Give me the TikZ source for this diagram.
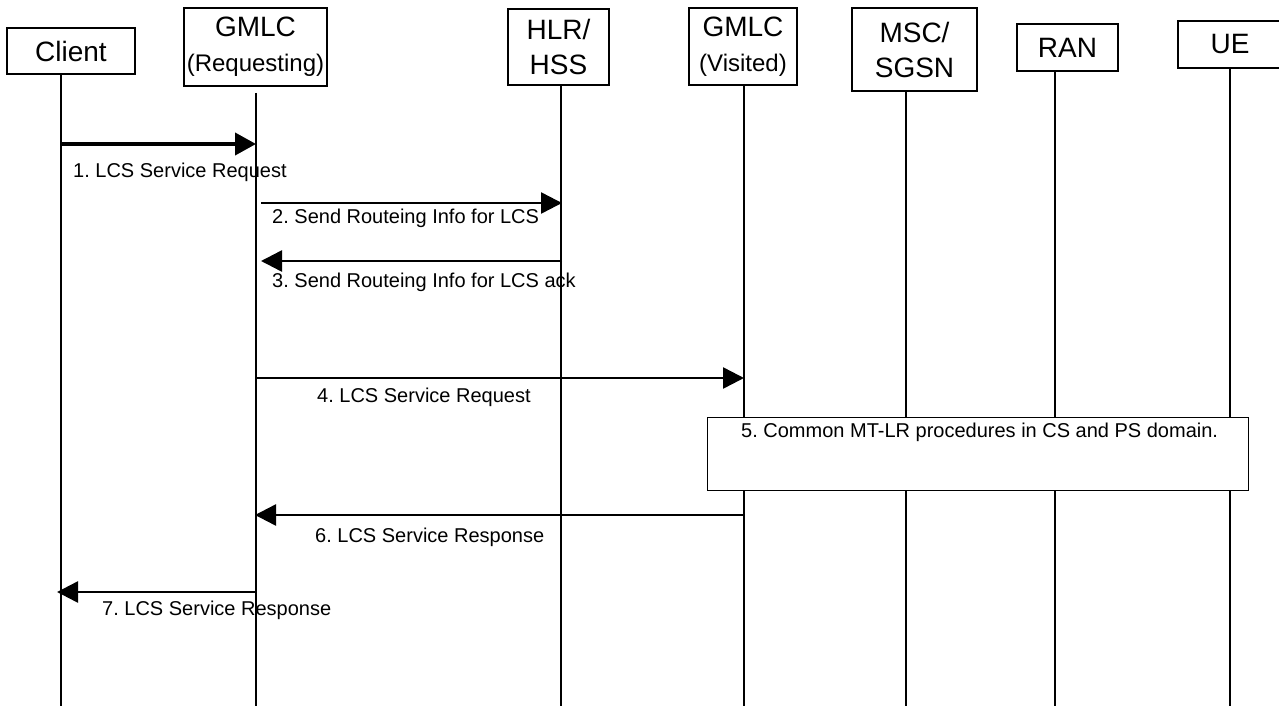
\documentclass[tikz,border=0pt]{standalone}
\usepackage{fontspec}
\setmainfont{Liberation Sans}
\usetikzlibrary{arrows.meta}
\begin{document}
\frenchspacing
\begin{tikzpicture}[x=1pt,y=-1pt,
  hdr/.style={draw, line width=1.3pt, fill=white, inner sep=0pt, align=center,
    font=\fontsize{28}{35}\selectfont},
  life/.style={line width=1.3pt},
  msg/.style={line width=2.5pt, -{Triangle[length=21pt,width=21pt]}},
  msgbold/.style={line width=4pt, -{Triangle[length=21pt,width=22pt]}},
  lbl/.style={anchor=base west, inner sep=0pt, font=\fontsize{20}{24}\selectfont\frenchspacing},
  procbox/.style={draw, line width=1.3pt, fill=white, inner sep=0pt, anchor=north west}]
\useasboundingbox (0,0) rectangle (1279,706);

% lifelines
\coordinate (cT) at (61,74);   \coordinate (cB) at (61,706);
\coordinate (gT) at (256,93);  \coordinate (gB) at (256,706);
\coordinate (hT) at (561,85);  \coordinate (hB) at (561,706);
\coordinate (vT) at (744,85);  \coordinate (vB) at (744,706);
\coordinate (mT) at (906,91);  \coordinate (mB) at (906,706);
\coordinate (rT) at (1055,71); \coordinate (rB) at (1055,706);
\coordinate (uT) at (1230,68); \coordinate (uB) at (1230,706);
\foreach \a/\b in {cT/cB,gT/gB,hT/hB,vT/vB,mT/mB,rT/rB,uT/uB}
  \draw[life] (\a) -- (\b);

% headers
\node[hdr, minimum width=128pt, minimum height=46pt] (client) at (71,51) {Client};
\node[hdr, minimum width=143pt, minimum height=78pt] (gmlcr) at (255.5,47)
  {GMLC\\{\fontsize{24}{35}\selectfont (Requesting)}};
\node[hdr, minimum width=101pt, minimum height=76pt] (hlr) at (558.5,47) {HLR/\\HSS};
\node[hdr, minimum width=108pt, minimum height=77pt] (gmlcv) at (743,46.5)
  {GMLC\\{\fontsize{24}{35}\selectfont (Visited)}};
\node[hdr, minimum width=125pt, minimum height=83pt] (msc) at (914.5,49.5) {MSC/\\SGSN};
\node[hdr, minimum width=101pt, minimum height=47pt] (ran) at (1067.5,47.5) {RAN};
\node[hdr, minimum width=104pt, minimum height=47pt] (ue) at (1230,44.5) {UE};

% messages
\coordinate (m1a) at (61,144);  \coordinate (m1b) at (256,144);
\coordinate (m2a) at (261,203); \coordinate (m2b) at (562,203);
\coordinate (m3a) at (562,261); \coordinate (m3b) at (261,261);
\coordinate (m4a) at (256,378); \coordinate (m4b) at (744,378);
\coordinate (m6a) at (744,515); \coordinate (m6b) at (255,515);
\coordinate (m7a) at (256,592); \coordinate (m7b) at (57,592);

\draw[msgbold] (m1a) -- (m1b);
\draw[msg] (m2a) -- (m2b);
\draw[msg] (m3a) -- (m3b);
\draw[msg] (m4a) -- (m4b);
\draw[msg] (m6a) -- (m6b);
\draw[msg] (m7a) -- (m7b);

\node[lbl] (l1) at (73,177) {1. LCS Service Request};
\node[lbl] (l2) at (272,223) {2. Send Routeing Info for LCS};
\node[lbl] (l3) at (272,287) {3. Send Routeing Info for LCS ack};
\node[lbl] (l4) at (317,402) {4. LCS Service Request};
\node[lbl] (l6) at (315,542) {6. LCS Service Response};
\node[lbl] (l7) at (102,615) {7. LCS Service Response};

% procedure box
\node[procbox, minimum width=541pt, minimum height=73pt] (proc) at (707,417) {};
\node[lbl] (l5) at (741,437) {5. Common MT-LR procedures in CS and PS domain.};
\end{tikzpicture}
\end{document}
